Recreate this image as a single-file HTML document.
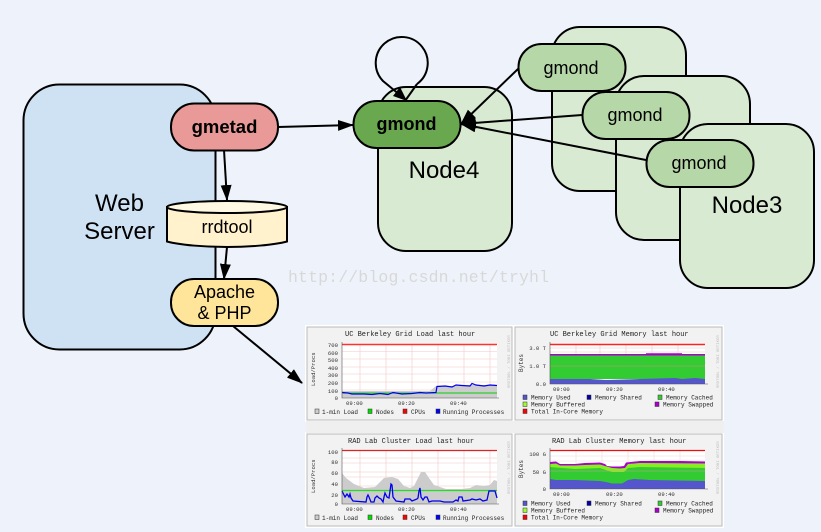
<!DOCTYPE html>
<html><head><meta charset="utf-8"><style>
html,body{margin:0;padding:0;background:#eef3fb;width:821px;height:532px;overflow:hidden}
svg{display:block}
.l{font-family:"Liberation Sans",sans-serif;fill:#000;text-anchor:middle}
.m{font-family:"Liberation Mono",monospace;fill:#222}
.t{font-size:7px}.a{font-size:6px}.y{font-size:5.6px;fill:#333}.s{font-size:4px;fill:#bbb}
</style></head><body>
<svg width="821" height="532" viewBox="0 0 821 532" xmlns="http://www.w3.org/2000/svg">
<defs>
<marker id="ah" markerUnits="userSpaceOnUse" markerWidth="17" markerHeight="13" refX="15" refY="5.500" orient="auto"><path d="M0 0L16 5.500L0 11Z" fill="#000"/></marker>
<filter id="bl" x="0" y="0" width="100%" height="100%"><feGaussianBlur stdDeviation="0.35"/></filter>
</defs>
<rect width="821" height="532" fill="#eef3fb"/>
<!-- web server -->
<rect x="23.500" y="84.500" width="192" height="265" rx="36" fill="#cfe2f3" stroke="#000" stroke-width="2"/>
<text class="l" font-size="24" x="119.500" y="211">Web</text>
<text class="l" font-size="24" x="119.500" y="239">Server</text>
<!-- node boxes -->
<rect x="378" y="87" width="134" height="164" rx="28" fill="#d9ead3" stroke="#000" stroke-width="2"/>
<text class="l" font-size="24" x="444" y="178">Node4</text>
<rect x="552" y="27" width="134" height="164" rx="28" fill="#d9ead3" stroke="#000" stroke-width="2"/>
<rect x="616" y="76" width="134" height="164" rx="28" fill="#d9ead3" stroke="#000" stroke-width="2"/>
<rect x="680" y="124" width="134" height="164" rx="28" fill="#d9ead3" stroke="#000" stroke-width="2"/>
<text class="l" font-size="24" x="747" y="213">Node3</text>
<!-- self loop -->
<path d="M417 84L405 101" fill="none" stroke="#000" stroke-width="2"/>
<path d="M417 84A26 26 0 1 0 383 81L406 100" fill="none" stroke="#000" stroke-width="2"/>
<path d="M407 101L393 96L400 87Z" fill="#000"/>
<!-- connectors -->
<line x1="215.500" y1="150" x2="215.500" y2="201" stroke="#000" stroke-width="2"/>
<line x1="215.500" y1="246" x2="215.500" y2="279" stroke="#000" stroke-width="2"/>
<line x1="278" y1="127" x2="353" y2="125" stroke="#000" stroke-width="2" marker-end="url(#ah)"/>
<line x1="224" y1="150" x2="227" y2="200" stroke="#000" stroke-width="2" marker-end="url(#ah)"/>
<line x1="227" y1="247" x2="224" y2="279" stroke="#000" stroke-width="2" marker-end="url(#ah)"/>
<line x1="233" y1="326" x2="302" y2="383" stroke="#000" stroke-width="2" marker-end="url(#ah)"/>
<!-- pills -->
<rect x="171" y="103.500" width="107" height="47" rx="23" fill="#ea9999" stroke="#000" stroke-width="2"/>
<text class="l" font-size="18.500" font-weight="bold" x="224.500" y="133">gmetad</text>
<rect x="353.500" y="101" width="107" height="47" rx="23" fill="#6aa84f" stroke="#000" stroke-width="2"/>
<text class="l" font-size="18" font-weight="bold" x="406.500" y="130">gmond</text>
<rect x="518.500" y="44" width="107" height="47" rx="23" fill="#b6d7a8" stroke="#000" stroke-width="2"/>
<text class="l" font-size="18" x="571" y="74">gmond</text>
<rect x="582.500" y="92" width="107" height="47" rx="23" fill="#b6d7a8" stroke="#000" stroke-width="2"/>
<text class="l" font-size="18" x="635" y="121">gmond</text>
<rect x="646.500" y="140" width="107" height="47" rx="23" fill="#b6d7a8" stroke="#000" stroke-width="2"/>
<text class="l" font-size="18" x="699" y="169">gmond</text>
<line x1="519" y1="68" x2="461" y2="124" stroke="#000" stroke-width="2" marker-end="url(#ah)"/>
<line x1="582" y1="115" x2="461" y2="124" stroke="#000" stroke-width="2" marker-end="url(#ah)"/>
<line x1="646" y1="160" x2="461" y2="124" stroke="#000" stroke-width="2" marker-end="url(#ah)"/>
<!-- rrdtool -->
<path d="M167 207V241.500C180 245 205 247 227 247C249 247 274 245 287 241.500V207Z" fill="#fff2cc" stroke="#000" stroke-width="2"/>
<ellipse cx="227" cy="207" rx="60" ry="6" fill="#fff8e3" stroke="#000" stroke-width="2"/>
<text class="l" font-size="18" x="227" y="233">rrdtool</text>
<!-- apache -->
<rect x="171" y="279" width="107" height="47" rx="23" fill="#ffe599" stroke="#000" stroke-width="2"/>
<text class="l" font-size="18" x="224.500" y="298">Apache</text>
<text class="l" font-size="18" x="224.500" y="319">&amp; PHP</text>
<!-- watermark -->
<text x="288" y="282" font-family="'Liberation Mono',monospace" font-size="16.500" fill="#d8d8d8" textLength="261">http://blog.csdn.net/tryhl</text>

<g filter="url(#bl)">
<!-- chart backdrop -->
<rect x="305" y="325" width="419" height="97" fill="#fff"/>
<rect x="305" y="432" width="419" height="96" fill="#fff"/>
<rect x="306" y="421" width="418" height="12" fill="#efefef"/>

<!-- panel 1 -->
<rect x="307" y="327" width="205" height="93" fill="#f2f2f2" stroke="#bbb"/>
<rect x="342" y="344" width="155" height="54" fill="#fff"/>
<g stroke="#f3c8c8" stroke-width=".6"><path d="M342 351.500H497M342 359H497M342 367H497M342 374H497M342 382H497M342 390H497M360 344V398M386 344V398M412 344V398M438 344V398M464 344V398M490 344V398"/></g>
<path d="M342 391L420 391L430 391L436 386L450 386L472 385L497 385V398H342Z" fill="#ccc"/>
<line x1="342" y1="393" x2="497" y2="393" stroke="#2fd02f" stroke-width="1.200"/>
<polyline fill="none" stroke="#0000ee" stroke-width="1.200" points="342,392.500 348,393 352,394 364,394 372,394.500 380,393.500 388,394.500 393,392.500 402,394 412,393.500 420,392.500 426,393 436,392.500 437,386.500 445,386 452,387 456,385 462,385.500 470,386 472,383.500 476,385 484,386 490,385 497,385.500"/>
<line x1="342" y1="344.500" x2="497" y2="344.500" stroke="#ff3030" stroke-width="1.500"/>
<path d="M342 342V398H499" fill="none" stroke="#555" stroke-width=".6"/>
<text class="m t" x="345" y="336">UC Berkeley Grid Load last hour</text>
<g class="m y" text-anchor="end"><text x="338" y="347">700</text><text x="338" y="355">600</text><text x="338" y="362">500</text><text x="338" y="370">400</text><text x="338" y="377">300</text><text x="338" y="385">200</text><text x="338" y="393">100</text><text x="338" y="400">0</text></g>
<text class="m y" transform="translate(315,386) rotate(-90)">Load/Procs</text>
<g class="m y"><text x="346" y="405">09:00</text><text x="398" y="405">09:20</text><text x="450" y="405">09:40</text></g>
<g stroke="#333" stroke-width=".5"><rect x="315" y="409" width="4" height="4.500" fill="#ccc"/><rect x="368" y="409" width="4" height="4.500" fill="#0d0"/><rect x="403" y="409" width="4" height="4.500" fill="#f00"/><rect x="436" y="409" width="4" height="4.500" fill="#00f"/></g>
<g class="m a"><text x="322" y="414">1-min Load</text><text x="376" y="414">Nodes</text><text x="411" y="414">CPUs</text><text x="443" y="414">Running Processes</text></g>
<text class="m s" transform="translate(510,388) rotate(-90)">RRDTOOL / TOBI OETIKER</text>

<!-- panel 2 -->
<rect x="515" y="327" width="207" height="93" fill="#f2f2f2" stroke="#bbb"/>
<rect x="550" y="344" width="155" height="40" fill="#fff"/>
<g stroke="#f3c8c8" stroke-width=".6"><path d="M550 348H705M550 352H705M576 344V356M600 344V356M626 344V356M652 344V356M678 344V356"/></g>
<path d="M550 355H705V379H550Z" fill="#33cc33"/>
<path d="M550 379L590 379L606 380L640 379L675 378L682 379L695 378L705 379V384H550Z" fill="#5555cc"/>
<path d="M550 354H646V353.200H682V354H705V355.500H550Z" fill="#aa00cc"/>
<line x1="550" y1="344.500" x2="705" y2="344.500" stroke="#ff2020" stroke-width="1.500"/>
<line x1="550" y1="366" x2="705" y2="366" stroke="#d88" stroke-width=".5"/>
<path d="M550 342V384H708" fill="none" stroke="#555" stroke-width=".6"/>
<text class="m t" x="550" y="336">UC Berkeley Grid Memory last hour</text>
<g class="m y" text-anchor="end"><text x="546" y="350">3.0 T</text><text x="546" y="368">1.0 T</text><text x="546" y="386">0.0</text></g>
<text class="m y" transform="translate(523,372) rotate(-90)" style="font-size:6px">Bytes</text>
<g class="m y"><text x="553" y="391">09:00</text><text x="606" y="391">09:20</text><text x="658" y="391">09:40</text></g>
<g stroke="#333" stroke-width=".5"><rect x="523" y="395" width="4" height="4.500" fill="#5555cc"/><rect x="587" y="395" width="4" height="4.500" fill="#0000aa"/><rect x="658" y="395" width="4" height="4.500" fill="#33cc33"/><rect x="523" y="402" width="4" height="4.500" fill="#99ff33"/><rect x="655" y="402" width="4" height="4.500" fill="#aa00cc"/><rect x="523" y="409" width="4" height="4.500" fill="#f00"/></g>
<g class="m a"><text x="531" y="399.500">Memory Used</text><text x="595" y="399.500">Memory Shared</text><text x="666" y="399.500">Memory Cached</text><text x="531" y="406.500">Memory Buffered</text><text x="663" y="406.500">Memory Swapped</text><text x="531" y="413.500">Total In-Core Memory</text></g>
<text class="m s" transform="translate(719,388) rotate(-90)">RRDTOOL / TOBI OETIKER</text>

<!-- panel 3 -->
<rect x="307" y="434" width="205" height="92" fill="#f2f2f2" stroke="#bbb"/>
<rect x="342" y="450" width="155" height="54" fill="#fff"/>
<g stroke="#f3c8c8" stroke-width=".6"><path d="M342 458H497M342 463H497M342 472H497M342 477H497M342 486H497M342 497H497M360 450V504M386 450V504M412 450V504M438 450V504M464 450V504M490 450V504"/></g>
<path d="M342 473L346 478L354 484L364 488L375 487L379 483L384 478L392 477L398 479L404 486L410 488L414 486L418 478L421 472L425 472L429 478L434 485L446 489L462 489L470 488L476 485L484 486L490 485L494 480L497 481V504H342Z" fill="#ccc"/>
<line x1="342" y1="490.500" x2="497" y2="490.500" stroke="#22dd22" stroke-width="1.200"/>
<polyline fill="none" stroke="#0000ee" stroke-width="1.300" points="342,491 345,497 347,494 349,497 350,494 351,498 353,501 366,502 367,497 368,495 369,497 371,502 374,502 375,498 377,496 379,498 381,499 383,502 384,497 385,493 387,497 389,498 391,484 392,485 393,497 396,501 404,502 405,499 410,499 412,501 417,499 418,498 419,491 420,488 421,497 423,500 425,497 427,497 429,502 432,501 440,501 444,502 453,502 456,500 458,501 459,497 462,497 463,501 470,500 472,499 476,500 480,499 483,501 487,500 489,491 495,491 497,498"/>
<line x1="342" y1="450.500" x2="497" y2="450.500" stroke="#dd2020" stroke-width="1.200"/>
<path d="M342 448V504H499" fill="none" stroke="#555" stroke-width=".6"/>
<text class="m t" x="348" y="443">RAD Lab Cluster Load last hour</text>
<g class="m y" text-anchor="end"><text x="338" y="454">100</text><text x="338" y="464">80</text><text x="338" y="475">60</text><text x="338" y="486">40</text><text x="338" y="497">20</text><text x="338" y="506">0</text></g>
<text class="m y" transform="translate(315,493) rotate(-90)">Load/Procs</text>
<g class="m y"><text x="346" y="511">09:00</text><text x="398" y="511">09:20</text><text x="450" y="511">09:40</text></g>
<g stroke="#333" stroke-width=".5"><rect x="315" y="515" width="4" height="4.500" fill="#ccc"/><rect x="368" y="515" width="4" height="4.500" fill="#0d0"/><rect x="403" y="515" width="4" height="4.500" fill="#f00"/><rect x="436" y="515" width="4" height="4.500" fill="#00f"/></g>
<g class="m a"><text x="322" y="520">1-min Load</text><text x="376" y="520">Nodes</text><text x="411" y="520">CPUs</text><text x="443" y="520">Running Processes</text></g>
<text class="m s" transform="translate(510,494) rotate(-90)">RRDTOOL / TOBI OETIKER</text>

<!-- panel 4 -->
<rect x="515" y="434" width="207" height="92" fill="#f2f2f2" stroke="#bbb"/>
<rect x="550" y="450" width="155" height="40" fill="#fff"/>
<g stroke="#f3d8d8" stroke-width=".6"><path d="M550 456H705M550 461H705M576 450V464M602 450V464M628 450V464M654 450V464M680 450V464"/></g>
<path d="M550 462L556 461.500L560 464L575 464L585 463L600 462.500L605 464L607 466L612 466.500L620 466.500L624 466L626 462.500L640 461L680 461L705 461.500V489H550Z" fill="#aa00cc"/>
<path d="M550 464L556 463.500L560 465.500L575 465.500L585 465L600 464.500L605 466L612 468L620 468.500L625 468L628 464L640 463L705 463.500V489H550Z" fill="#88ee22"/>
<path d="M550 467L575 469L600 468L606 470L612 472L624 472L628 468L640 467L705 468V489H550Z" fill="#33cc33"/>
<path d="M550 479L556 480L575 480L600 481L606 482L612 483.500L622 483.500L628 480L634 479L650 480L705 481V489H550Z" fill="#5555cc"/>
<line x1="550" y1="450.500" x2="705" y2="450.500" stroke="#ee1010" stroke-width="1.200"/>
<line x1="550" y1="471" x2="705" y2="471" stroke="#c99" stroke-width=".5"/>
<path d="M550 448V489H708" fill="none" stroke="#555" stroke-width=".6"/>
<text class="m t" x="552" y="443">RAD Lab Cluster Memory last hour</text>
<g class="m y" text-anchor="end"><text x="546" y="456">100 G</text><text x="546" y="474">50 G</text><text x="546" y="491">0</text></g>
<text class="m y" transform="translate(523,478) rotate(-90)" style="font-size:6px">Bytes</text>
<g class="m y"><text x="553" y="496">09:00</text><text x="606" y="496">09:20</text><text x="658" y="496">09:40</text></g>
<g stroke="#333" stroke-width=".5"><rect x="523" y="501" width="4" height="4.500" fill="#5555cc"/><rect x="587" y="501" width="4" height="4.500" fill="#0000aa"/><rect x="658" y="501" width="4" height="4.500" fill="#33cc33"/><rect x="523" y="508" width="4" height="4.500" fill="#99ff33"/><rect x="655" y="508" width="4" height="4.500" fill="#aa00cc"/><rect x="523" y="515" width="4" height="4.500" fill="#f00"/></g>
<g class="m a"><text x="531" y="505.500">Memory Used</text><text x="595" y="505.500">Memory Shared</text><text x="666" y="505.500">Memory Cached</text><text x="531" y="512.500">Memory Buffered</text><text x="663" y="512.500">Memory Swapped</text><text x="531" y="519.500">Total In-Core Memory</text></g>
<text class="m s" transform="translate(719,494) rotate(-90)">RRDTOOL / TOBI OETIKER</text>
</g>
</svg>
</body></html>
